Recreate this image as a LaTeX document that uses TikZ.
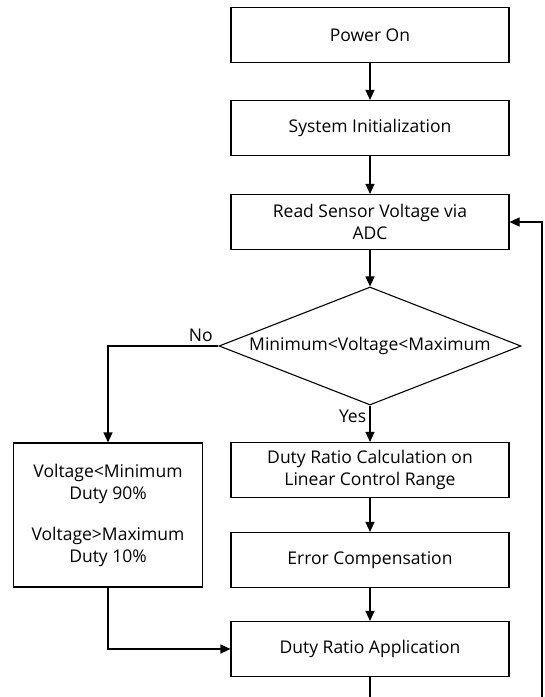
\documentclass[tikz,border=0pt]{standalone}
\usepackage{fontspec}
\setmainfont{Open Sans}
\usetikzlibrary{arrows.meta, shapes.geometric, positioning}

\tikzset{
  box/.style={draw, rectangle, minimum width=278pt, minimum height=55pt,
    inner sep=0pt, align=center},
  decision/.style={draw, diamond, aspect=2.56, minimum width=302pt,
    minimum height=118pt, inner sep=0pt},
}

\begin{document}
\begin{tikzpicture}[x=1pt, y=-1pt, line width=1.1pt,
  >={Triangle[length=10pt, width=9pt]},
  font=\fontsize{17.5}{22}\selectfont]
\useasboundingbox (0,0) rectangle (545,697);

\node[box] (pwr) at (370, 35) {Power On};
\node[box] (init) at (370, 128) {System Initialization};
\node[box] (read) at (370, 222) {Read Sensor Voltage via\\ADC};
\node[decision] (chk) at (370, 346) {Minimum<Voltage<Maximum};
\node[box] (calc) at (370, 470) {Duty Ratio Calculation on\\Linear Control Range};
\node[box] (comp) at (370, 560) {Error Compensation};
\node[box] (apply) at (370, 649) {Duty Ratio Application};
\node[box, minimum width=189pt, minimum height=144pt] (clamp) at (108, 515)
  {Voltage<Minimum\\Duty 90\%\\[19pt]Voltage>Maximum\\Duty 10\%};

% loop back, cut off at the page edge
\coordinate (cut) at (370, 697);
\coordinate (ret) at (542, 697);
\coordinate (up) at (542, 222);

\foreach \a/\b in {pwr/init, init/read, read/chk, calc/comp, comp/apply}
  \draw[->] (\a) -- (\b);

\draw[->] (chk) -- node[pos=0.3, left] {Yes} (calc);
\draw[->] (chk.west) -| node[pos=0.08, above] {No} (clamp);
\draw[->] (clamp) |- (apply);
\draw (apply) -- (cut);
\draw[->] (ret) -- (up) -- (read);

\end{tikzpicture}
\end{document}
